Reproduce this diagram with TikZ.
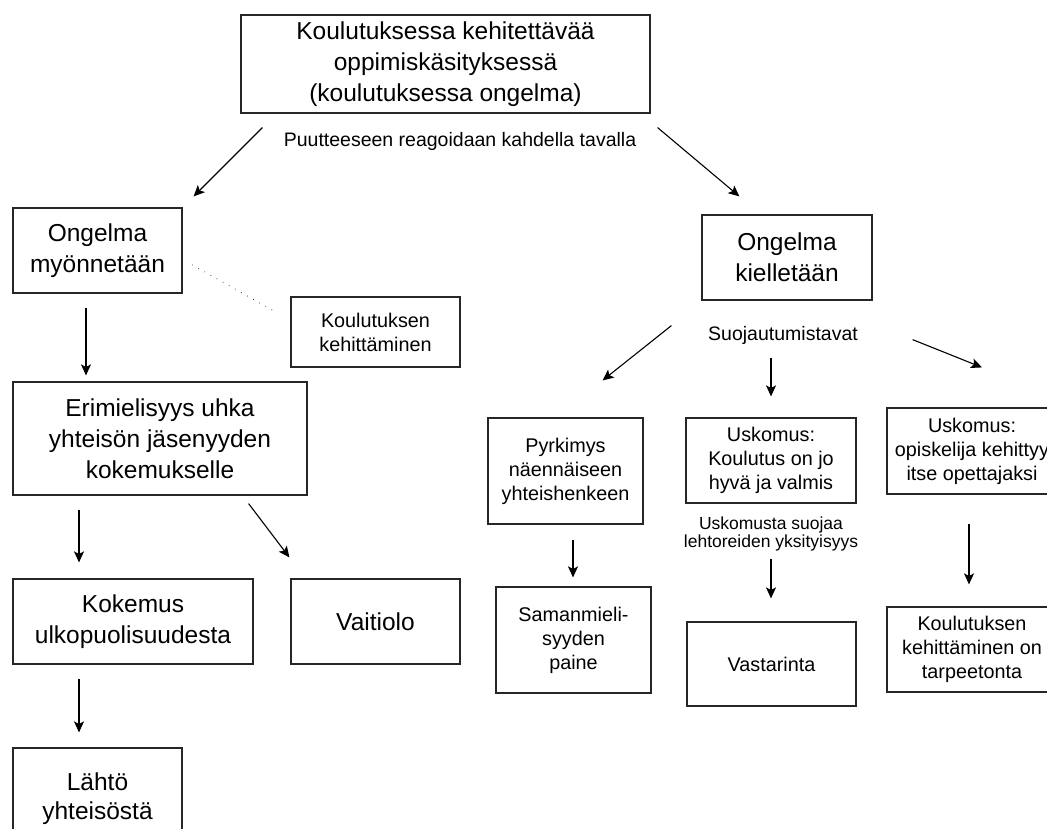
\documentclass[tikz,border=0pt]{standalone}
\usepackage{fontspec}
\setmainfont{Liberation Sans}
\usetikzlibrary{calc}
\usetikzlibrary{arrows.meta}

\tikzset{
  box/.style={draw=black!85, line width=1.2pt, align=center, inner sep=0pt},
  bigbox/.style={box, font=\fontsize{24.5}{31}\selectfont},
  midbox/.style={box, font=\fontsize{19.8}{24}\selectfont},
  lbl/.style={align=center, inner sep=0pt, font=\fontsize{19.5}{23}\selectfont},
  smalllbl/.style={align=center, inner sep=0pt, font=\fontsize{17.5}{18.5}\selectfont},
  arr/.style={-{Stealth[length=11pt,width=10pt,inset=2.5pt]}, line width=1.1pt},
}

\begin{document}
\begin{tikzpicture}[x=1pt,y=-1pt]
\useasboundingbox (0,0) rectangle (1047,828);

\node[bigbox, minimum width=409, minimum height=98] (top) at (445.5,64) {Koulutuksessa kehitettävää\\oppimiskäsityksessä\\(koulutuksessa ongelma)};
\node[lbl] (puute) at (460,141) {Puutteeseen reagoidaan kahdella tavalla};

\node[bigbox, minimum width=169, minimum height=85] (myon) at (97.5,250.5) {Ongelma\\myönnetään};
\node[midbox, minimum width=169, minimum height=70] (kehit) at (375.5,332) {Koulutuksen\\kehittäminen};
\node[bigbox, minimum width=294, minimum height=113] (erim) at (160,438.5) {Erimielisyys uhka\\yhteisön jäsenyyden\\kokemukselle};
\node[bigbox, minimum width=240, minimum height=85] (kokemus) at (133,621.5) {Kokemus\\ulkopuolisuudesta};
\node[bigbox, minimum width=169, minimum height=85] (vaitiolo) at (375.5,621.5) {Vaitiolo};
\node[bigbox, minimum width=169, minimum height=100, text depth=0pt] (lahto) at (97.5,798) {\raisebox{22pt}{\begin{tabular}{@{}c@{}}Lähtö\\[-2pt]yhteisöstä\end{tabular}}};

\node[bigbox, minimum width=170, minimum height=85] (kiell) at (787,257.5) {Ongelma\\kielletään};
\node[lbl] (suoja) at (783,335) {Suojautumistavat};

\node[midbox, minimum width=155, minimum height=106] (pyrk) at (565.5,471) {Pyrkimys\\näennäiseen\\yhteishenkeen};
\node[midbox, minimum width=170, minimum height=85] (uskoA) at (771,460.5) {Uskomus:\\Koulutus on jo\\hyvä ja valmis};
\node[midbox, minimum width=170, minimum height=86] (uskoB) at (972,451) {Uskomus:\\opiskelija kehittyy\\itse opettajaksi};
\node[smalllbl] (uskomusta) at (771,534) {Uskomusta suojaa\\lehtoreiden yksityisyys};

\node[midbox, minimum width=155, minimum height=106] (saman) at (573.5,640) {Samanmieli-\\syyden\\paine};
\node[midbox, minimum width=169, minimum height=84] (vasta) at (771.5,664) {Vastarinta};
\node[midbox, minimum width=170, minimum height=85] (tarp) at (972,649.5) {Koulutuksen\\kehittäminen on\\tarpeetonta};

\draw[arr] ($(top.south west)+(22,14)$) -- ($(myon.north east)+(11,-11)$);
\draw[arr] ($(top.south east)+(7,14)$) -- ($(kiell.north west)+(38,-18)$);

\draw[arr] ($(myon.south)+(-11.5,14)$) -- ($(erim.north)+(-74,-6)$);
\draw[black!75, line width=1.1pt, line cap=round, dash pattern=on 0pt off 7pt] ($(myon.east)+(10,14.5)$) -- ($(kehit.west)+(-13,-19)$);
\draw[arr] ($(erim.south)+(-81,14)$) -- ($(kokemus.north)+(-54,-16)$);
\draw[arr] ($(erim.south east)+(-59,8)$) -- ($(vaitiolo.north west)+(-1,-21)$);
\draw[arr] ($(kokemus.south)+(-54,14)$) -- ($(lahto.north)+(-18.5,-15)$);

\draw[arr] ($(kiell.south west)+(-30,25)$) -- ($(pyrk.north east)+(-41,-37)$);
\draw[arr] ($(kiell.south)+(-16,57)$) -- ($(uskoA.north)+(0,-21)$);
\draw[arr] ($(kiell.south east)+(40,39)$) -- ($(uskoB.north)+(10,-40)$);

\draw[arr] ($(pyrk.south)+(7.5,15)$) -- ($(saman.north)+(-0.5,-9)$);
\draw[arr] ($(uskoA.south)+(0,55)$) -- ($(vasta.north)+(-0.5,-23)$);
\draw[arr] ($(uskoB.south)+(-3,29)$) -- ($(tarp.north)+(-3,-22)$);

\end{tikzpicture}
\end{document}
